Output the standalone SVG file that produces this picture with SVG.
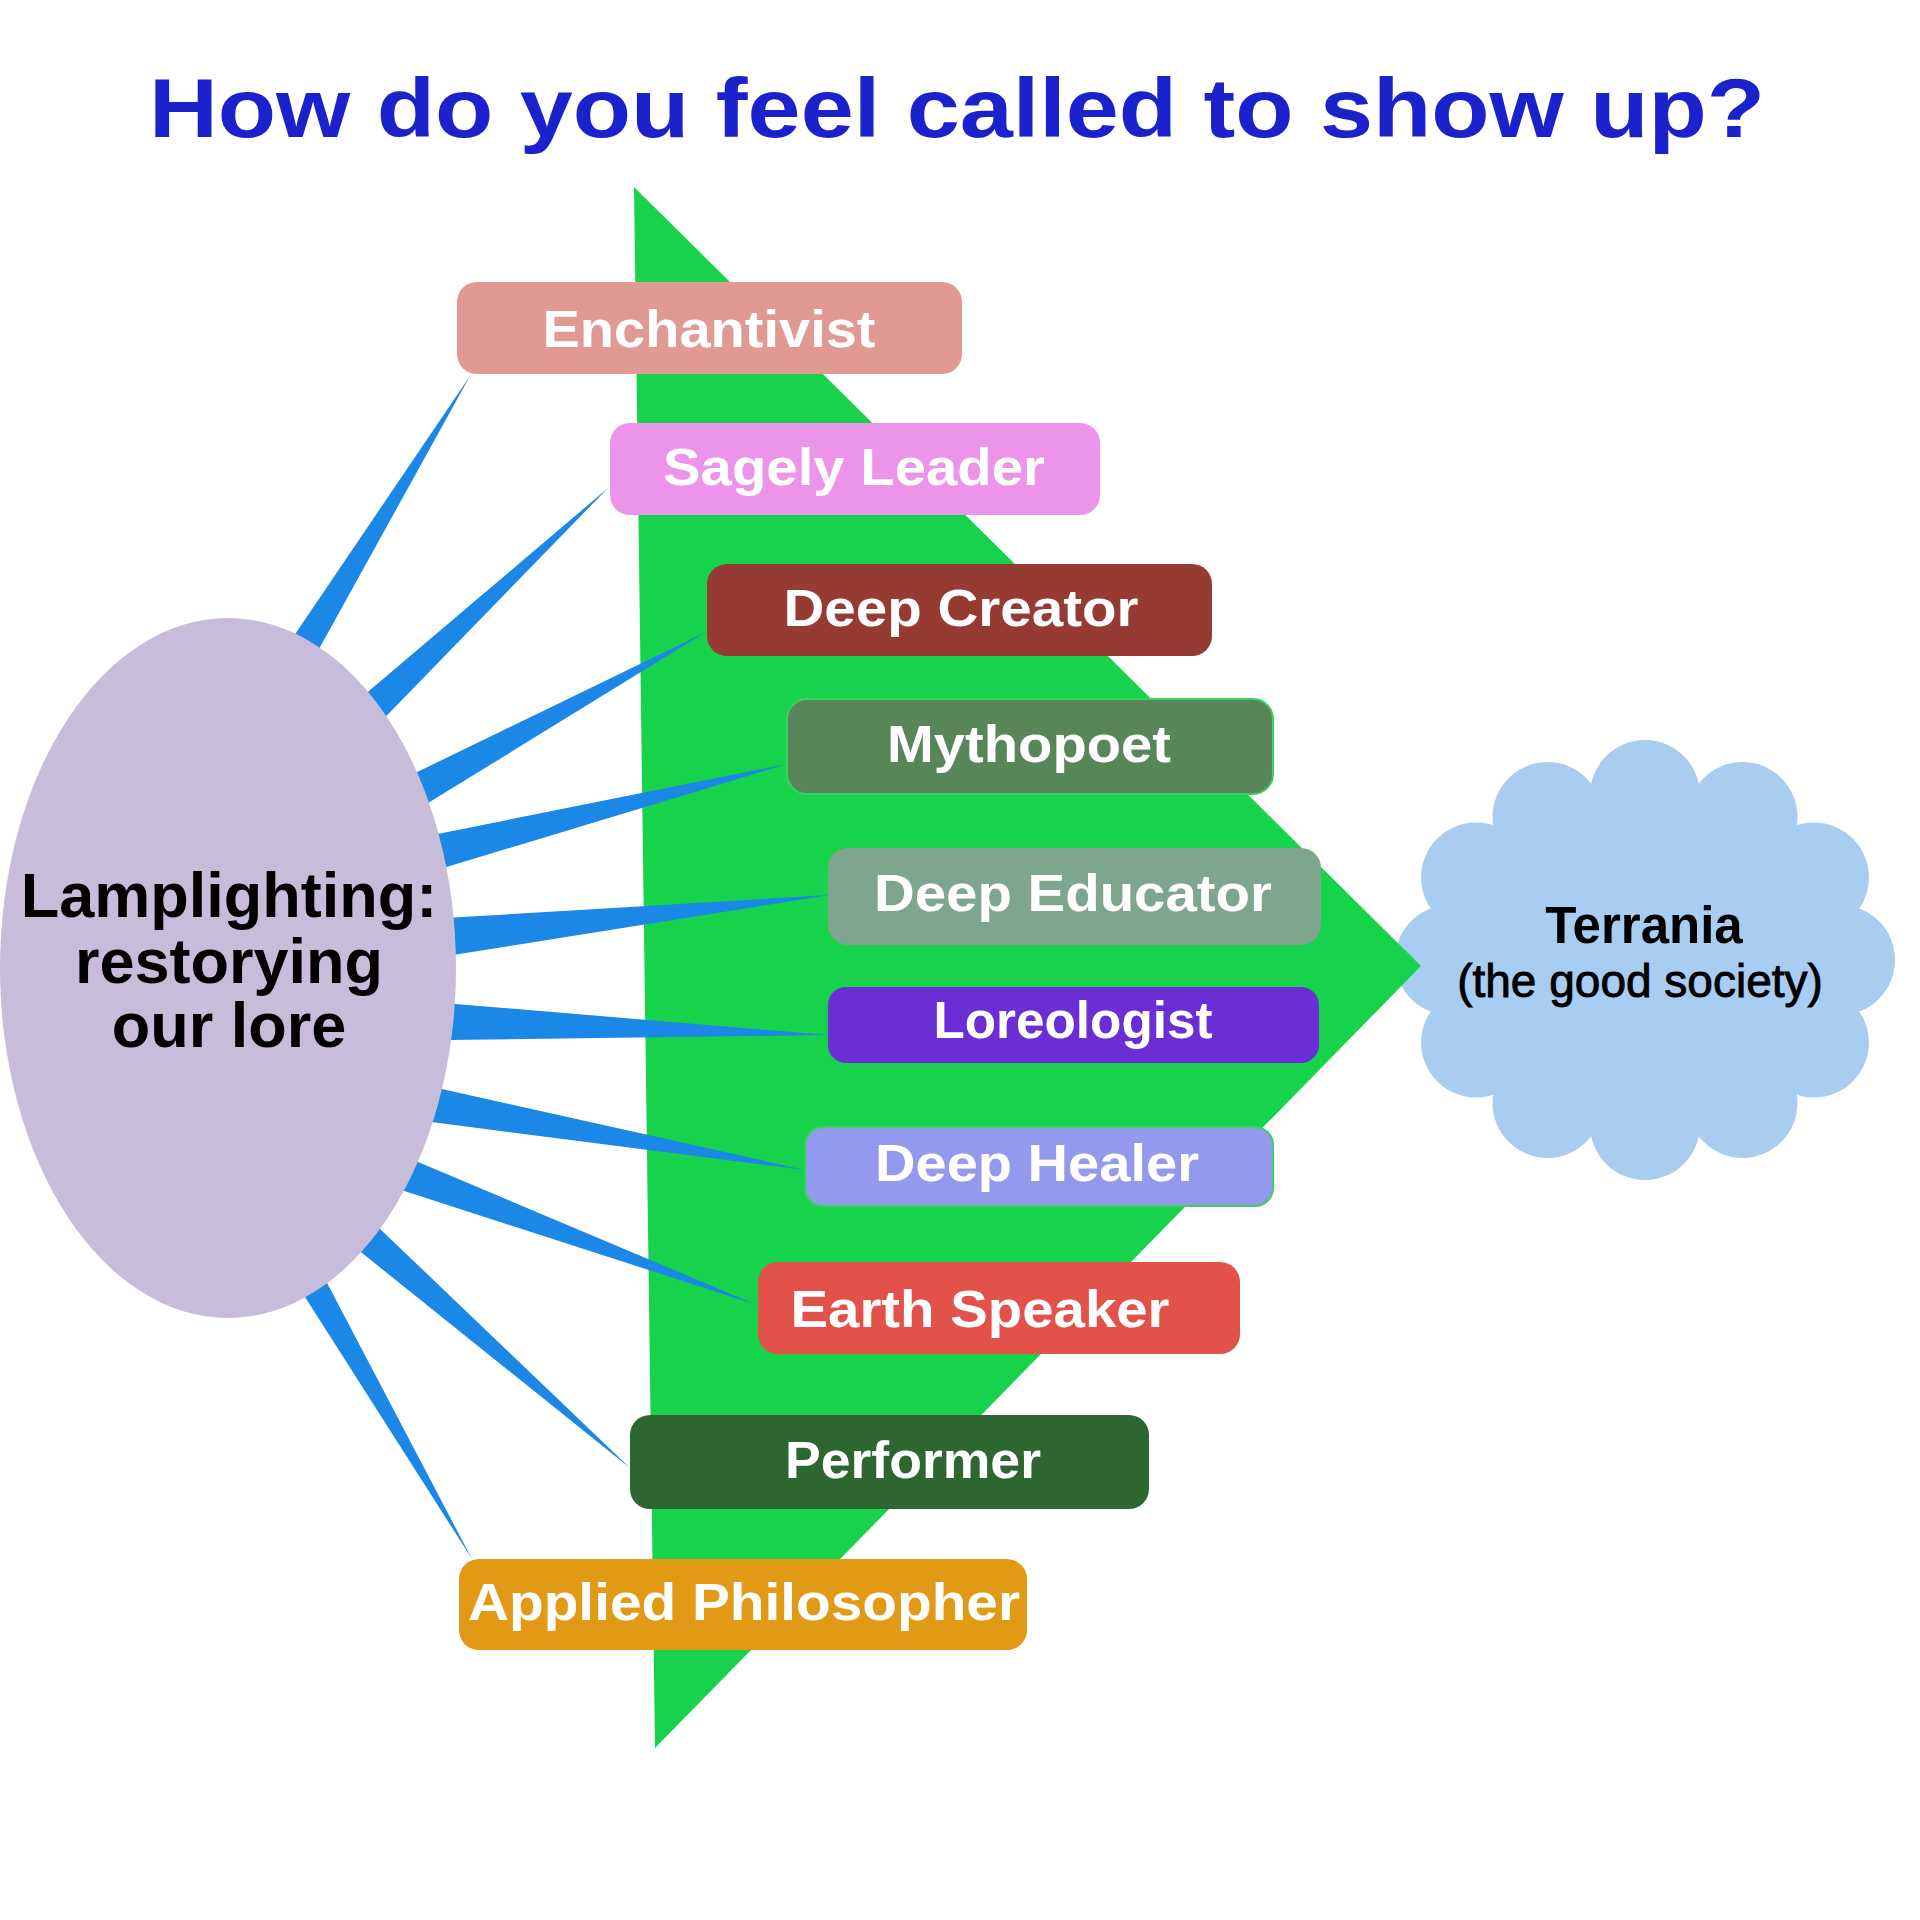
<svg xmlns="http://www.w3.org/2000/svg" width="1920" height="1920" viewBox="0 0 1920 1920">
<style>
  .title { font-family: "Liberation Sans", Arial, sans-serif; font-weight: bold; font-size: 84px; fill: #1b22cc; }
  .lbl { font-family: "Liberation Sans", Arial, sans-serif; font-weight: bold; font-size: 52px; fill: #ffffff; text-anchor: middle; }
  .hub { font-family: "Liberation Sans", Arial, sans-serif; font-weight: bold; font-size: 63px; fill: #000000; text-anchor: middle; }
  .cl1 { font-family: "Liberation Sans", Arial, sans-serif; font-weight: bold; font-size: 51px; fill: #000000; text-anchor: middle; }
  .cl2 { font-family: "Liberation Sans", Arial, sans-serif; font-size: 46px; fill: #000000; stroke: #000000; stroke-width: 0.9; text-anchor: middle; }
  .wedge { fill: #1b87e6; }
  .cloud { fill: #a9ccf1; }
</style>
<rect x="0" y="0" width="1920" height="1920" fill="#ffffff"/>

<text class="title" x="149" y="137" textLength="1616" lengthAdjust="spacingAndGlyphs">How do you feel called to show up?</text>

<g id="terrania">
  <g class="cloud">
    <ellipse cx="1645" cy="960" rx="200" ry="170"/>
    <circle cx="1840" cy="960" r="55"/>
    <circle cx="1813.9" cy="877.5" r="55"/>
    <circle cx="1742.5" cy="817.1" r="55"/>
    <circle cx="1645" cy="795" r="55"/>
    <circle cx="1547.5" cy="817.1" r="55"/>
    <circle cx="1476.1" cy="877.5" r="55"/>
    <circle cx="1450" cy="960" r="55"/>
    <circle cx="1476.1" cy="1042.5" r="55"/>
    <circle cx="1547.5" cy="1102.9" r="55"/>
    <circle cx="1645" cy="1125" r="55"/>
    <circle cx="1742.5" cy="1102.9" r="55"/>
    <circle cx="1813.9" cy="1042.5" r="55"/>
  </g>
  <text class="cl1" x="1644" y="943">Terrania</text>
  <text class="cl2" x="1640" y="997">(the good society)</text>
</g>

<g id="arrow">
  <polygon points="634,187 1421,966 655,1748" fill="#17d24b"/>
</g>

<g id="connectors">
  <polygon class="wedge" points="470,376 307.8,669.2 282.0,653.4"/>
  <polygon class="wedge" points="608,488 370.8,731.9 348.6,708.3"/>
  <polygon class="wedge" points="706,632 413.4,812.1 396.8,781.9"/>
  <polygon class="wedge" points="787,764 424.2,873.8 415.3,838.4"/>
  <polygon class="wedge" points="830,895 432.2,958.3 428.0,919.1"/>
  <polygon class="wedge" points="828,1035 429.3,1040.3 430.7,1001.9"/>
  <polygon class="wedge" points="805,1170 412.3,1119.6 418.5,1083.8"/>
  <polygon class="wedge" points="757,1305 380.6,1183.3 392.6,1151.3"/>
  <polygon class="wedge" points="630,1468 341.6,1236.6 362.8,1212.4"/>
  <polygon class="wedge" points="472,1559 291.3,1275.4 315.7,1261.4"/>
</g>

<g id="lamplighting">
  <ellipse cx="228" cy="968" rx="228" ry="350" fill="#c7bddb"/>
  <text class="hub" x="229" y="917">Lamplighting:</text>
  <text class="hub" x="229" y="983">restorying</text>
  <text class="hub" x="229" y="1047">our lore</text>
</g>

<g id="enchantivist">
  <rect x="457" y="282" width="505" height="92" rx="20" fill="#e19a93"/>
  <text class="lbl" x="709" y="347" textLength="333" lengthAdjust="spacingAndGlyphs">Enchantivist</text>
</g>
<g id="sagely-leader">
  <rect x="610" y="423" width="490" height="92" rx="20" fill="#ec93ea"/>
  <text class="lbl" x="854" y="485" textLength="382" lengthAdjust="spacingAndGlyphs">Sagely Leader</text>
</g>
<g id="deep-creator">
  <rect x="707" y="564" width="505" height="92" rx="20" fill="#963a34"/>
  <text class="lbl" x="961" y="626" textLength="355" lengthAdjust="spacingAndGlyphs">Deep Creator</text>
</g>
<g id="mythopoet">
  <rect x="787" y="699" width="486" height="95" rx="20" fill="#588659" stroke="#3bd160" stroke-width="2"/>
  <text class="lbl" x="1029" y="762" textLength="284" lengthAdjust="spacingAndGlyphs">Mythopoet</text>
</g>
<g id="deep-educator">
  <rect x="828" y="848" width="493" height="97" rx="20" fill="#7ea68f"/>
  <text class="lbl" x="1073" y="911" textLength="398" lengthAdjust="spacingAndGlyphs">Deep Educator</text>
</g>
<g id="loreologist">
  <rect x="828" y="987" width="491" height="76" rx="18" fill="#6a2ed4"/>
  <text class="lbl" x="1073" y="1038" textLength="279" lengthAdjust="spacingAndGlyphs">Loreologist</text>
</g>
<g id="deep-healer">
  <rect x="805" y="1127" width="468" height="79" rx="18" fill="#9399ec" stroke="#3bd160" stroke-width="2"/>
  <text class="lbl" x="1037" y="1181" textLength="324" lengthAdjust="spacingAndGlyphs">Deep Healer</text>
</g>
<g id="earth-speaker">
  <rect x="758" y="1262" width="482" height="92" rx="20" fill="#e2514a"/>
  <text class="lbl" x="980" y="1327" textLength="379" lengthAdjust="spacingAndGlyphs">Earth Speaker</text>
</g>
<g id="performer">
  <rect x="630" y="1415" width="519" height="94" rx="20" fill="#2e6631"/>
  <text class="lbl" x="913" y="1478" textLength="256" lengthAdjust="spacingAndGlyphs">Performer</text>
</g>
<g id="applied-philosopher">
  <rect x="459" y="1559" width="568" height="91" rx="20" fill="#e09a16"/>
  <text class="lbl" x="744" y="1620" textLength="552" lengthAdjust="spacingAndGlyphs">Applied Philosopher</text>
</g>
</svg>
